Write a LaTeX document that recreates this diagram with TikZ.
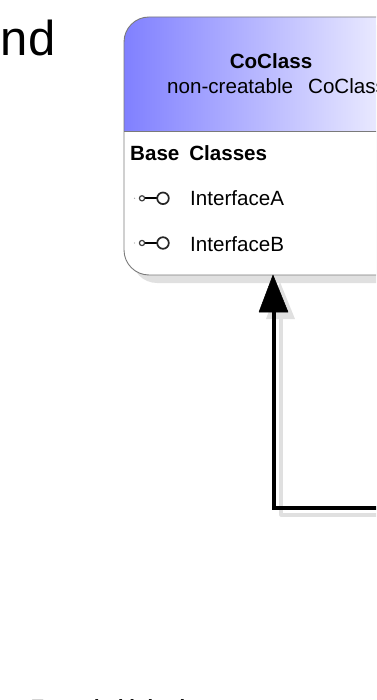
\documentclass[tikz,border=0pt]{standalone}
\usepackage{fontspec}
\setmainfont{Liberation Sans}
\usetikzlibrary{calc}
\definecolor{shadowgray}{HTML}{E0E0E0}
\definecolor{headblue}{HTML}{8080FF}
\definecolor{boxedge}{HTML}{7A7A7A}
\tikzset{
  x=1pt,y=-1pt,
  titletext/.style={font=\fontsize{20.6}{24}\selectfont,text=black,inner sep=0pt,anchor=base},
  itemtext/.style={font=\fontsize{20.6}{24}\selectfont,text=black,inner sep=0pt,anchor=base west},
  wire/.style={line width=3.2pt,black,line join=miter},
  shadowwire/.style={line width=3.2pt,shadowgray,line join=round},
}
\newcommand{\lollipop}[2]{%
  \draw[black,line width=2pt] (145,#2) -- (157,#2);
  \draw[black!75,line width=1.2pt,fill=white] (142,#2) circle (2.6);
  \fill[gray!70] (134.5,#2) circle (.7);
  \draw[black!85,line width=1.7pt,fill=white] (163,#2) circle (5.8);
}
\begin{document}
\begin{tikzpicture}
\useasboundingbox (0,0) rectangle (376,700);
\begin{scope}
\clip (0,0) rectangle (376,700);
% box shadow
\fill[shadowgray,rounded corners=25] (132,25) rectangle (440,283);
% connector shadow
\fill[shadowgray] (280,282) -- (266,319) -- (295,319) -- cycle;
\draw[shadowwire] (281,315) -- (281,515) -- (400,515);
% box
\fill[white,rounded corners=25] (124,17) rectangle (440,275);
\begin{scope}
\clip (124,131) [rounded corners=25] -- (124,17) [sharp corners] -- (376,17) -- (376,131) -- cycle;
\shade[left color=headblue,right color=white] (124,17) rectangle (431,131);
\end{scope}
\draw[boxedge,line width=.9pt,rounded corners=25] (440,275) -- (124,275) -- (124,17) -- (440,17);
\draw[boxedge,line width=.9pt] (124,131) -- (400,131);
% texts
\node[titletext] (title) at (271,69) {\textbf{CoClass}};
\node[titletext,anchor=base west] (subtitle) at (167,94) {non-creatable\hspace{.45em}\ CoClass};
\node[itemtext] (base) at (130,161) {\textbf{Base\hspace{.2em}\ Classes}};
\node[itemtext] (ia) at (190,206) {InterfaceA};
\node[itemtext] (ib) at (190,251.5) {InterfaceB};
\lollipop{126}{198.3}
\lollipop{126}{243}
% connector
\coordinate (tip) at (274,300);
\coordinate (corner) at (274,508);
\coordinate (off) at (400,508);
\draw[wire] (off) -- (corner) -- (tip);
\fill[black,draw=black,line width=.5pt,line join=round] (273,275) -- (259,312) -- (288,312) -- cycle;
% legend remains
\node[anchor=base east,inner sep=0pt,font=\fontsize{49}{52}\selectfont] (legend) at (55.5,56) {Legend};
\node[anchor=base west,inner sep=0pt,font=\itshape\bfseries\fontsize{20.6}{24}\selectfont] (note) at (29,714) {Extended inheritance};
\end{scope}
\end{tikzpicture}
\end{document}
